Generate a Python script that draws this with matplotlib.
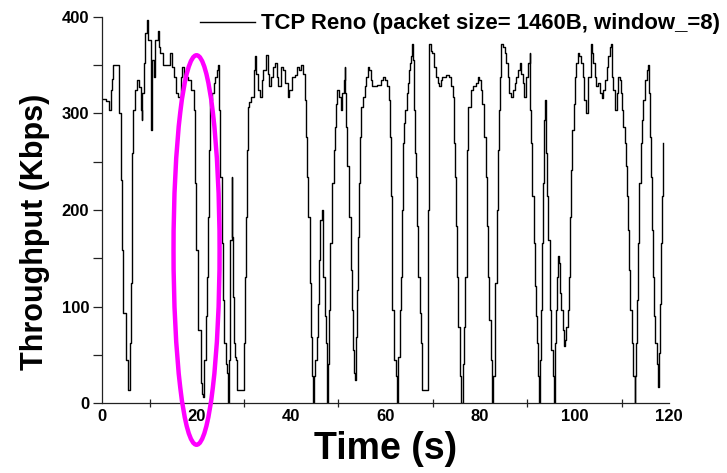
import matplotlib
matplotlib.use("Agg")
import matplotlib.pyplot as plt
from matplotlib.patches import Ellipse
from matplotlib.ticker import MultipleLocator

plt.rcParams['font.family'] = ['Liberation Sans', 'DejaVu Sans']

# Débit TCP Reno (temps en s, débit en Kbps)
time_s = [
    0, 0.87, 1.38, 1.89, 2.10, 2.30, 3.43, 3.63, 3.94, 4.14, 4.35, 5.06, 5.47, 5.78, 5.98, 6.19,
    6.39, 6.60, 7.00, 7.41, 7.72, 8.13, 8.33, 8.44, 8.74, 8.95, 9.46, 9.66, 10.28, 10.48, 10.99,
    11.20, 11.71, 11.91, 12.32, 12.83, 13.96, 14.26, 14.77, 15.18, 15.59, 16.00, 16.61, 16.92,
    17.33, 17.63, 18.15, 18.86, 19.48, 19.68, 19.88, 20.29, 20.80, 21.11,
    21.42, 21.62, 21.93, 22.13, 22.34, 22.64, 22.85, 23.16, 23.56, 23.87, 24.28, 24.59, 24.69,
    24.89, 25.30, 25.61, 25.81, 26.12, 26.32, 26.53, 26.73, 26.94, 27.14, 27.45, 27.55, 27.76,
    27.96, 28.16, 28.37, 28.47, 29.90, 30.00, 30.21, 30.41, 30.62, 30.82, 31.13, 31.54, 32.05,
    32.36, 32.56, 32.97, 33.38, 33.79, 34.09, 34.60, 35.01, 35.32, 35.73, 36.14, 36.55, 36.96,
    37.26, 37.77, 38.18, 38.69, 39.31, 39.61, 40.12, 40.74, 41.15, 41.56,
    42.17, 42.47, 42.88, 43.19, 43.39, 43.60, 43.91, 44.11, 44.31, 44.52, 44.83, 45.13, 45.44,
    45.75, 45.95, 46.16, 46.56, 46.77, 47.07, 47.28, 47.48, 47.59, 47.79, 48.10, 48.30, 48.71,
    49.02, 49.22, 49.53, 49.73, 50.04, 50.45, 50.75, 51.16, 51.37, 51.47, 51.67, 51.88, 52.19,
    52.59, 52.80, 53.00, 53.21, 53.41, 53.72, 53.92, 54.13, 54.33, 54.54, 54.84, 55.15, 55.56,
    55.87, 56.27, 56.58, 56.89, 57.19, 57.71, 58.22, 58.93, 59.44, 59.85, 60.36, 60.77, 60.87,
    61.18, 61.28, 61.38, 61.80, 62.10,
    62.51, 62.71, 63.02, 63.23, 63.43, 63.74, 63.94, 64.15, 64.45, 64.66, 64.97, 65.17, 65.47,
    65.68, 65.78, 65.99, 66.29, 66.39, 66.70, 66.91, 67.21, 67.42, 67.62, 68.54, 68.90, 69.20,
    69.50, 69.87, 70.28, 70.59, 70.99, 71.30, 71.71, 72.02, 72.73, 73.45, 73.75, 74.16, 74.47,
    74.67, 74.88, 75.19, 75.39, 75.70, 75.90, 76.11, 76.42, 76.62, 76.82, 77.13, 77.33, 77.54,
    78.05, 78.56, 79.07, 79.48, 79.79, 80.19, 80.50, 80.91, 81.22, 81.42, 81.63, 81.93, 82.34,
    82.55,
    82.75, 83.06, 83.26, 83.57, 83.87, 84.08, 84.28, 84.49, 84.79, 85.20, 85.51, 85.92, 86.22,
    86.64, 86.94, 87.35, 87.66, 87.96, 88.37, 88.68, 89.09, 89.40, 89.80, 90.11, 90.52, 90.62,
    90.82, 91.03, 91.34, 91.54, 91.75, 92.05, 92.26, 92.46, 92.56, 92.76, 92.97, 93.17, 93.28,
    93.48, 93.69, 93.89, 94.00, 94.21, 94.40, 94.71, 94.91, 95.12, 95.42, 95.63, 95.83, 96.14,
    96.34, 96.45, 96.65, 96.86, 97.16, 97.47, 97.67, 97.88, 98.29, 98.59, 98.80, 99.11, 99.31,
    99.51, 99.82, 100.03, 100.33, 100.74, 101.05, 101.46, 101.76, 102.07, 102.48, 102.78,
    103.40, 103.60, 103.91, 104.32, 104.62, 105.03, 105.34, 105.75, 106.05, 106.47, 106.77,
    107.18, 107.49, 107.69, 107.89, 108.20, 108.51, 108.91, 109.22, 109.63, 109.94, 110.14,
    110.35, 110.65, 110.86, 111.06, 111.27, 111.47, 111.78, 112.09, 112.29, 112.39, 112.70,
    112.80, 112.90, 113.11, 113.31, 113.52, 113.72, 114.03, 114.23, 114.54, 114.95, 115.26,
    115.56, 115.77, 115.97, 116.18, 116.38, 116.69, 116.89, 117.10, 117.40, 117.61, 117.81,
    118.12, 118.32, 118.53, 118.63,
]

throughput_kbps = [
    315, 313, 303, 324, 336, 350, 350, 300, 231, 159, 93, 45, 14, 62, 124, 193,
    259, 303, 324, 334, 327, 303, 293, 321, 352, 383, 397, 376, 283, 355, 338,
    376, 385, 369, 362, 350, 350, 362, 348, 338, 321, 317, 338, 348,
    334, 338, 334, 324, 303, 228, 159, 76, 21, 10,
    7, 45, 90, 131, 193, 262, 314, 321, 331, 338, 345, 350, 303,
    234, 166, 107, 62, 41, 31, 0, 45, 107, 169, 234, 172, 110,
    62, 48, 45, 14, 14, 62, 131, 193, 262, 307, 312, 317, 345,
    359, 341, 324, 317, 334, 345, 360, 341, 328, 338, 348, 352, 338,
    328, 348, 345, 331, 317, 324, 338, 340, 348, 345,
    350, 341, 314, 276, 234, 193, 124, 69, 28, 0, 28, 45, 69,
    103, 148, 190, 200, 131, 90, 62, 34, 0, 41, 97, 166, 228,
    262, 286, 310, 324, 317, 303, 321, 334, 348, 321, 286, 245, 193,
    138, 97, 55, 31, 24, 69, 117, 172, 228, 276, 307, 317, 328,
    338, 348, 345, 334, 328, 328, 329, 334, 338, 334, 328, 314, 276,
    214, 148, 97, 45, 28,
    0, 48, 97, 131, 200, 269, 290, 303, 321, 331, 345, 352, 359,
    372, 355, 303, 259, 234, 183, 131, 93, 62, 14, 14, 200, 372,
    365, 362, 348, 338, 331, 328, 334, 338, 340, 338, 328, 317, 269,
    234, 183, 131, 79, 28, 0, 0, 41, 79, 131, 193, 262, 307,
    324, 328, 331, 338, 334, 324, 310, 276, 234, 183, 131, 86, 45,
    0,
    28, 79, 124, 200, 262, 303, 338, 372, 369, 362, 352, 338, 321,
    317, 324, 331, 338, 345, 352, 341, 331, 317, 338, 352, 362, 303,
    269, 214, 166, 121, 90, 62, 28, 0, 0, 45, 97, 166, 228,
    293, 314, 283, 259, 214, 169, 131, 97, 55, 28, 0, 62, 97,
    131, 152, 145, 114, 97, 76, 59, 65, 79, 97, 131, 193, 241,
    283, 310, 338, 352, 362, 359, 352, 338, 314, 300, 338,
    372, 362, 352, 338, 328, 331, 321, 316, 324, 334, 348,
    359, 369, 372, 338, 324, 303, 321, 338, 334, 321, 303,
    286, 269, 245, 214, 179, 138, 97, 62, 45, 28, 14,
    0, 28, 62, 107, 166, 228, 269, 293, 314, 334, 345,
    350, 321, 276, 234, 179, 131, 90, 62, 41, 17, 52,
    103, 166, 214, 269,
]

legend_label = "TCP Reno (packet size= 1460B, window_=8)"

fig = plt.figure(figsize=(7.27, 4.73), dpi=100)
ax = fig.add_axes([0.1407, 0.1474, 0.7795, 0.8173])

ax.plot(time_s, throughput_kbps, color='black', lw=1.0, drawstyle='steps-post', label=legend_label)

ax.set_xlim(0, 120)
ax.set_ylim(0, 400)
ax.xaxis.set_major_locator(MultipleLocator(20))
ax.xaxis.set_minor_locator(MultipleLocator(10))
ax.yaxis.set_major_locator(MultipleLocator(100))
ax.yaxis.set_minor_locator(MultipleLocator(50))

for s in ['top', 'right']:
    ax.spines[s].set_visible(False)
for s in ['left', 'bottom']:
    ax.spines[s].set_linewidth(0.9)
    ax.spines[s].set_color('#222222')

ax.tick_params(axis='x', which='major', length=0, pad=4, labelsize=12)
ax.tick_params(axis='x', which='minor', length=6, direction='inout', width=0.9, color='#222222')
ax.tick_params(axis='y', which='both', length=6.5, direction='out', width=0.9, color='#222222', pad=3, labelsize=12)
for lab in ax.get_xticklabels() + ax.get_yticklabels():
    lab.set_fontweight('bold')

ax.set_xlabel('Time (s)', fontsize=27, fontweight='bold', labelpad=5)
ax.set_ylabel('Throughput (Kbps)', fontsize=22, fontweight='bold')
ax.yaxis.set_label_coords(-0.093, 0.443)

fig.legend(loc='center left', bbox_to_anchor=(200 / 727, 1 - 24 / 473), frameon=False,
           prop={'size': 15.9, 'weight': 'bold'}, handlelength=2.5, handletextpad=0.28,
           borderpad=0, borderaxespad=0)

# ellipse magenta qui entoure la chute vers 20 s
ell = Ellipse((19.96, 158.6), width=9.75, height=403, fill=False, edgecolor='#ff00ff',
              lw=3.2, clip_on=False, zorder=10)
ax.add_patch(ell)

fig.savefig('out.png', dpi=100)
